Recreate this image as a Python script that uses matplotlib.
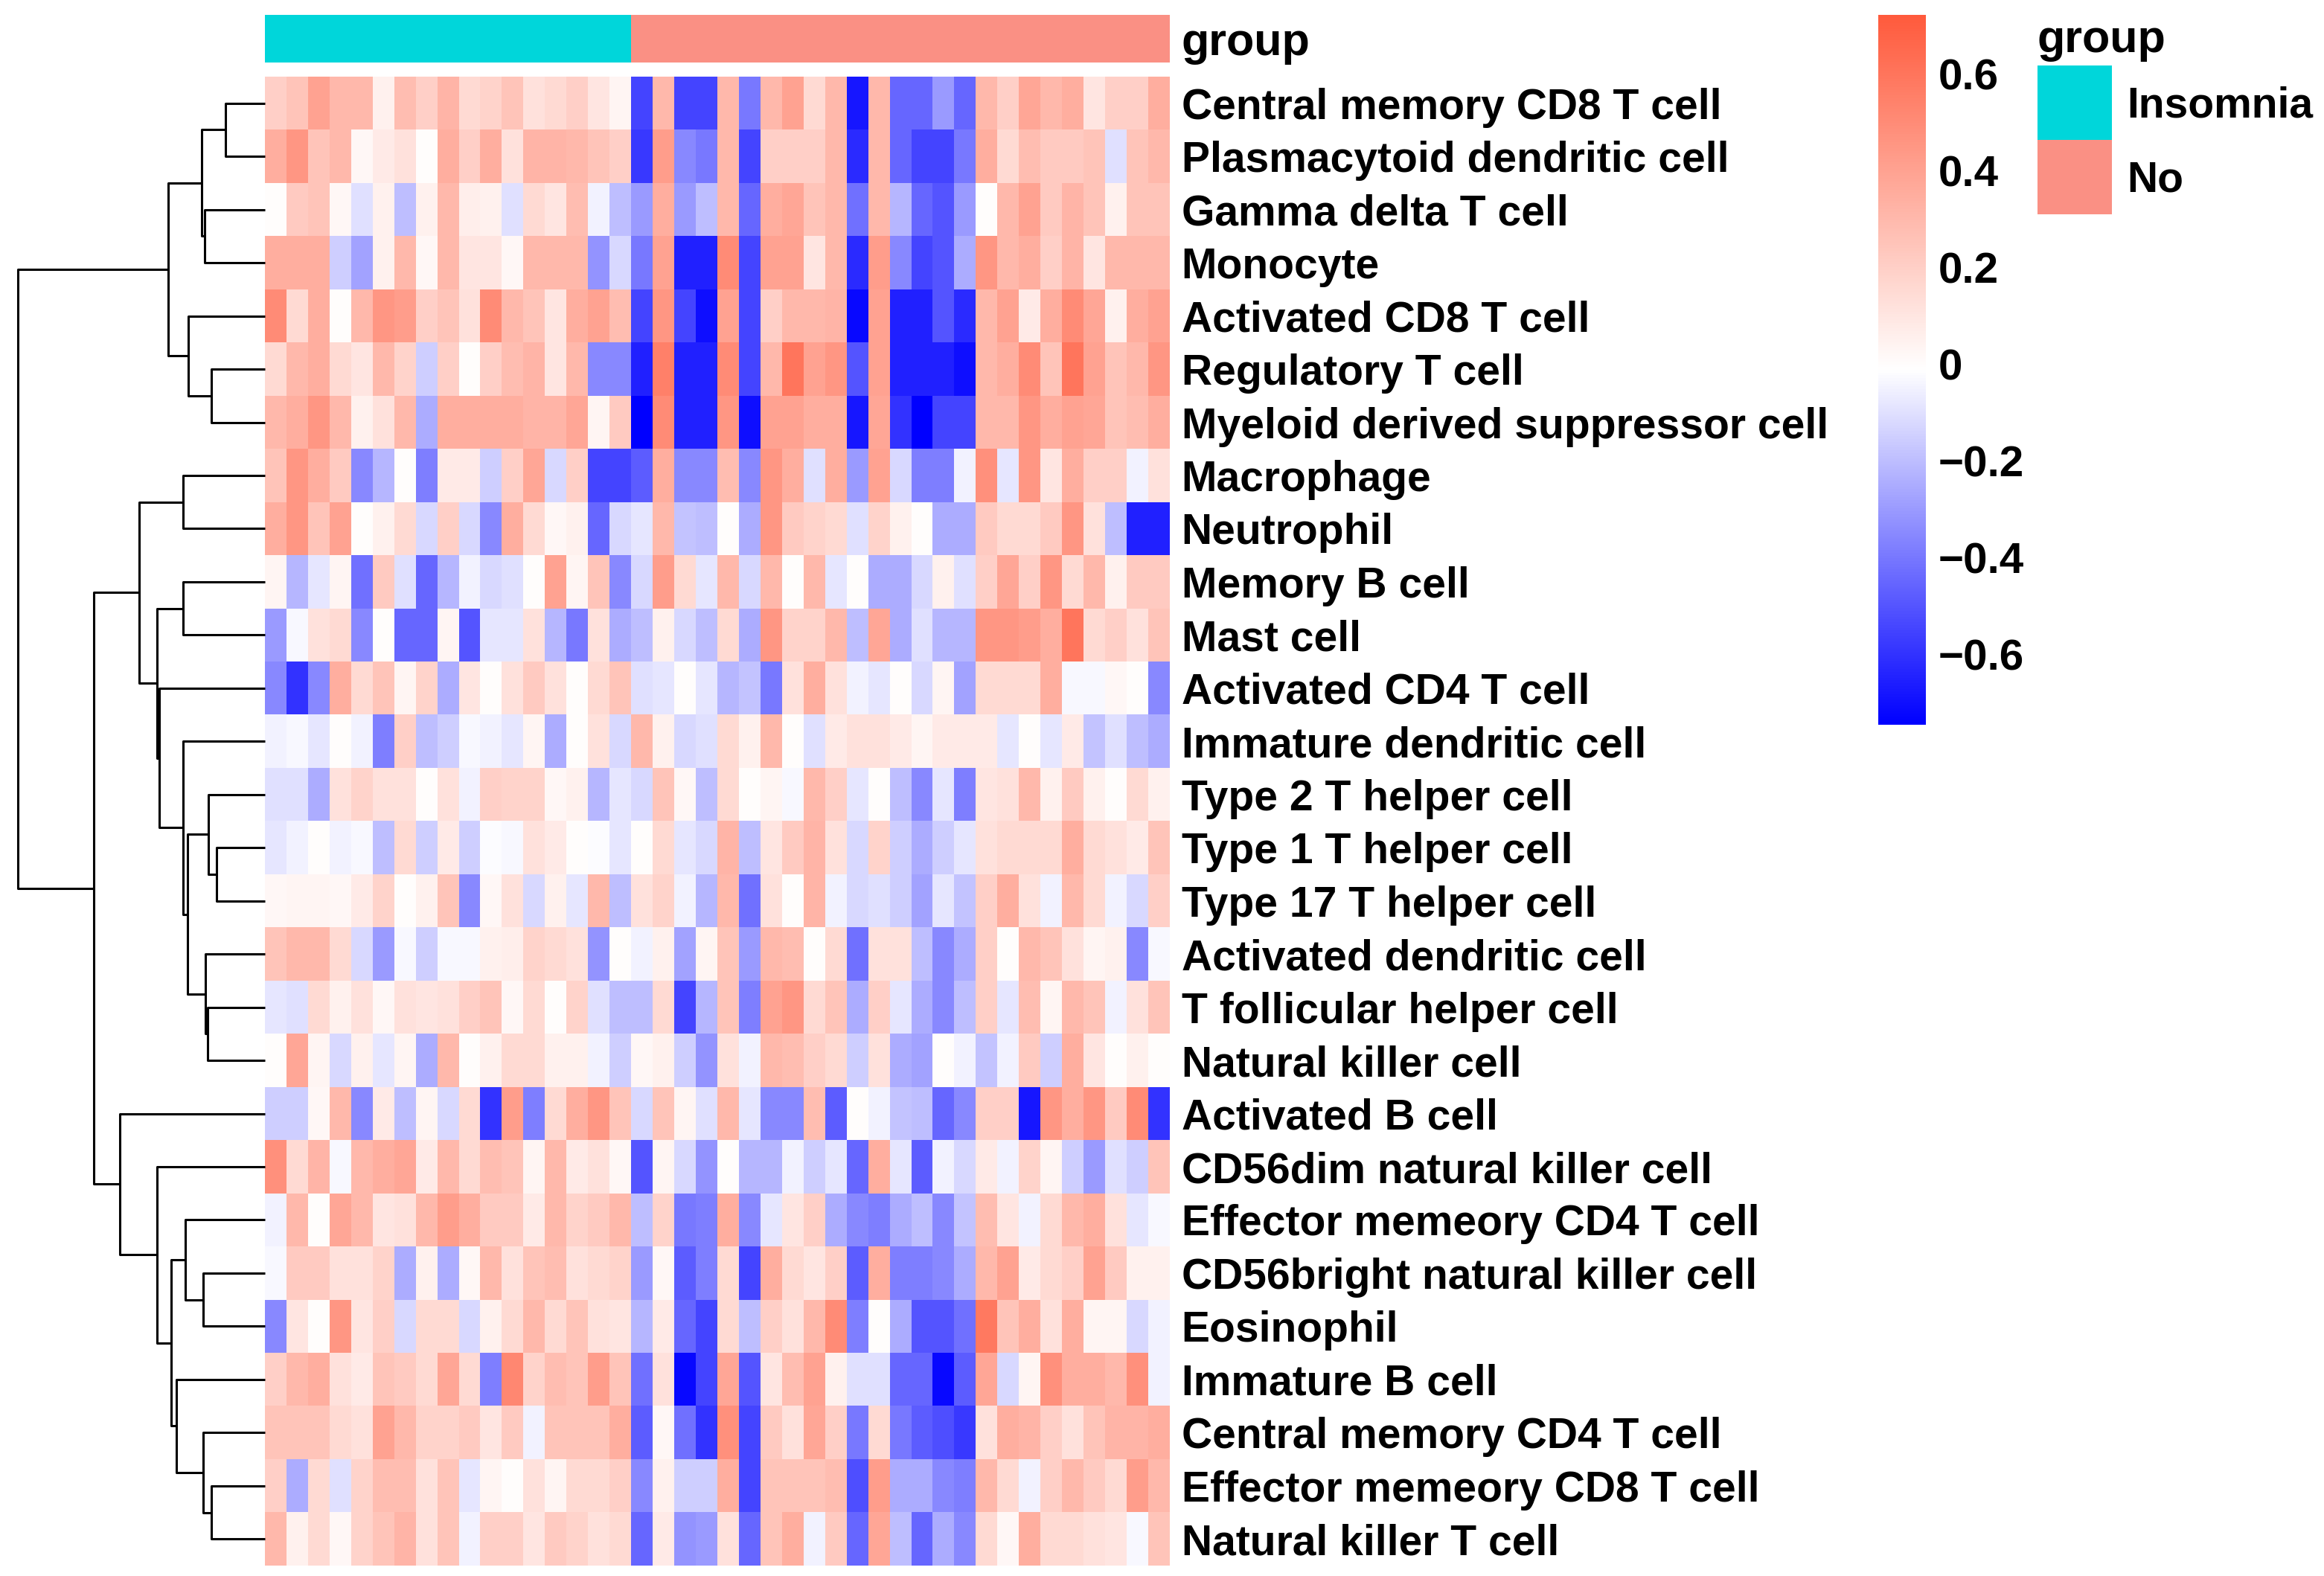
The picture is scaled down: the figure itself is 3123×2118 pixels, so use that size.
"""Immune cell infiltration heatmap, Insomnia vs No, with row dendrogram."""

import matplotlib

matplotlib.use("Agg")
import matplotlib.pyplot as plt
import numpy as np
from matplotlib.colors import LinearSegmentedColormap, ListedColormap, Normalize
from matplotlib.patches import Rectangle

cell_types = [
    "Central memory CD8 T cell", "Plasmacytoid dendritic cell", "Gamma delta T cell",
    "Monocyte", "Activated CD8 T cell", "Regulatory T cell",
    "Myeloid derived suppressor cell", "Macrophage", "Neutrophil", "Memory B cell",
    "Mast cell", "Activated CD4 T cell", "Immature dendritic cell", "Type 2 T helper cell",
    "Type 1 T helper cell", "Type 17 T helper cell", "Activated dendritic cell",
    "T follicular helper cell", "Natural killer cell", "Activated B cell",
    "CD56dim natural killer cell", "Effector memeory CD4 T cell",
    "CD56bright natural killer cell", "Eosinophil", "Immature B cell",
    "Central memory CD4 T cell", "Effector memeory CD8 T cell", "Natural killer T cell",
]

group_names = ["Insomnia", "No"]
group_sizes = [17, 25]
group_colors = ["#00D6DA", "#FA9084"]

# one row per cell type, 17 Insomnia samples then 25 No samples
scores = [
    [0.2, 0.25, 0.4, 0.3, 0.3, 0.05, 0.28, 0.2, 0.32, 0.15, 0.18, 0.25, 0.12, 0.15, 0.2, 0.1, 0.03,
     -0.55, 0.3, -0.55, -0.55, 0.3, -0.4, 0.3, 0.4, 0.15, 0.3, -0.68, 0.3, -0.45, -0.45, -0.3, -0.45,
     0.3, 0.2, 0.38, 0.3, 0.35, 0.1, 0.2, 0.2, 0.35],
    [0.35, 0.45, 0.25, 0.3, 0.02, 0.08, 0.12, 0.0, 0.35, 0.2, 0.35, 0.12, 0.32, 0.32, 0.3, 0.25, 0.2,
     -0.58, 0.42, -0.35, -0.4, 0.3, -0.55, 0.2, 0.2, 0.2, 0.3, -0.62, 0.3, -0.45, -0.55, -0.55, -0.4,
     0.35, 0.15, 0.28, 0.22, 0.22, 0.25, -0.1, 0.25, 0.3],
    [0.0, 0.22, 0.25, 0.02, -0.1, 0.05, -0.2, 0.05, 0.3, 0.06, 0.05, -0.1, 0.15, 0.1, 0.28, -0.05, -0.2,
     -0.3, 0.35, -0.3, -0.2, 0.3, -0.45, 0.35, 0.38, 0.25, 0.3, -0.42, 0.3, -0.22, -0.45, -0.5, -0.3,
     0.0, 0.3, 0.4, 0.22, 0.32, 0.25, 0.05, 0.25, 0.25],
    [0.35, 0.35, 0.35, -0.15, -0.28, 0.05, 0.3, 0.02, 0.3, 0.1, 0.1, 0.02, 0.3, 0.3, 0.3, -0.32, -0.12,
     -0.4, 0.4, -0.65, -0.65, 0.5, -0.55, 0.4, 0.4, 0.1, 0.3, -0.62, 0.42, -0.35, -0.55, -0.5, -0.25,
     0.45, 0.3, 0.35, 0.2, 0.32, 0.1, 0.3, 0.3, 0.3],
    [0.5, 0.15, 0.35, 0.0, 0.3, 0.45, 0.42, 0.2, 0.25, 0.12, 0.5, 0.3, 0.25, 0.1, 0.35, 0.4, 0.28,
     -0.55, 0.45, -0.55, -0.7, 0.4, -0.55, 0.2, 0.3, 0.3, 0.32, -0.72, 0.4, -0.65, -0.65, -0.5, -0.62,
     0.3, 0.4, 0.08, 0.35, 0.5, 0.38, 0.05, 0.35, 0.4],
    [0.15, 0.3, 0.35, 0.15, 0.1, 0.3, 0.18, -0.15, 0.2, 0.0, 0.2, 0.28, 0.32, 0.1, 0.3, -0.35, -0.35,
     -0.65, 0.55, -0.65, -0.65, 0.5, -0.55, 0.3, 0.6, 0.4, 0.45, -0.5, 0.4, -0.65, -0.65, -0.65, -0.7,
     0.3, 0.35, 0.5, 0.25, 0.6, 0.4, 0.25, 0.3, 0.45],
    [0.3, 0.35, 0.45, 0.3, 0.05, 0.12, 0.3, -0.25, 0.35, 0.35, 0.35, 0.35, 0.32, 0.32, 0.38, 0.03, 0.22,
     -0.75, 0.5, -0.65, -0.65, 0.45, -0.7, 0.4, 0.4, 0.35, 0.35, -0.68, 0.38, -0.6, -0.75, -0.55, -0.55,
     0.3, 0.3, 0.45, 0.35, 0.4, 0.38, 0.25, 0.28, 0.35],
    [0.25, 0.45, 0.35, 0.22, -0.35, -0.22, 0.0, -0.38, 0.08, 0.08, -0.15, 0.2, 0.38, -0.12, 0.2, -0.55, -0.55,
     -0.48, 0.35, -0.35, -0.35, 0.28, -0.35, 0.45, 0.35, -0.1, 0.35, -0.3, 0.4, -0.12, -0.38, -0.38, -0.05,
     0.48, -0.08, 0.45, 0.1, 0.35, 0.2, 0.2, -0.05, 0.12],
    [0.35, 0.45, 0.25, 0.4, 0.0, 0.05, 0.15, -0.12, 0.2, -0.12, -0.35, 0.35, 0.15, 0.02, 0.05, -0.45, -0.12,
     -0.08, 0.3, -0.18, -0.2, 0.0, -0.25, 0.45, 0.22, 0.18, 0.15, -0.1, 0.18, 0.05, 0.0, -0.25, -0.25,
     0.22, 0.15, 0.15, 0.22, 0.45, 0.12, -0.2, -0.65, -0.65],
    [0.03, -0.22, -0.08, 0.03, -0.42, 0.22, -0.1, -0.45, -0.22, -0.05, -0.12, -0.1, 0.0, 0.4, 0.03, 0.25, -0.35,
     -0.12, 0.42, 0.15, -0.08, 0.3, -0.12, 0.3, 0.0, 0.3, -0.08, 0.0, -0.25, -0.25, -0.12, 0.05, -0.1,
     0.2, 0.38, 0.2, 0.45, 0.15, 0.3, 0.05, 0.22, 0.22],
    [-0.3, -0.03, 0.12, 0.15, -0.35, 0.0, -0.45, -0.45, 0.03, -0.5, -0.08, -0.08, 0.12, -0.22, -0.4, 0.12, -0.25,
     -0.2, 0.05, -0.12, -0.2, 0.15, -0.25, 0.45, 0.18, 0.18, 0.3, -0.2, 0.38, -0.25, -0.1, -0.22, -0.22,
     0.45, 0.45, 0.42, 0.35, 0.6, 0.15, 0.2, 0.12, 0.25],
    [-0.35, -0.6, -0.35, 0.35, 0.15, 0.25, 0.03, 0.18, -0.25, 0.1, 0.0, 0.12, 0.22, 0.12, 0.0, 0.15, 0.25,
     -0.1, -0.08, 0.0, -0.08, -0.22, -0.18, -0.4, 0.12, 0.35, 0.12, -0.05, -0.08, 0.0, -0.12, 0.03, -0.28,
     0.15, 0.15, 0.15, 0.35, -0.03, -0.03, 0.02, 0.0, -0.35],
    [-0.05, -0.03, -0.08, 0.0, -0.05, -0.38, 0.2, -0.2, -0.15, -0.03, -0.05, -0.08, 0.03, -0.25, 0.0, 0.12, -0.12,
     0.3, 0.05, -0.12, -0.1, 0.15, 0.05, 0.3, 0.0, -0.1, 0.08, 0.12, 0.12, 0.08, 0.03, 0.08, 0.08,
     0.08, -0.08, 0.0, -0.08, 0.08, -0.18, -0.1, -0.2, -0.25],
    [-0.1, -0.1, -0.25, 0.12, 0.18, 0.12, 0.12, 0.0, 0.12, -0.05, 0.2, 0.18, 0.18, 0.02, 0.05, -0.22, -0.08,
     -0.12, 0.25, 0.02, -0.2, 0.15, 0.0, 0.03, -0.03, 0.3, 0.2, -0.08, 0.0, -0.2, -0.35, -0.08, -0.38,
     0.1, 0.12, 0.3, 0.05, 0.22, 0.05, 0.0, 0.15, 0.05],
    [-0.08, -0.05, 0.0, -0.05, -0.03, -0.2, 0.15, -0.15, 0.08, -0.15, -0.02, -0.03, 0.12, 0.08, 0.0, -0.02, -0.08,
     0.0, 0.15, -0.08, -0.12, 0.32, -0.2, 0.1, 0.22, 0.32, 0.12, -0.12, 0.18, -0.15, -0.25, -0.15, -0.08,
     0.12, 0.15, 0.15, 0.15, 0.35, 0.15, 0.12, 0.08, 0.25],
    [0.02, 0.03, 0.03, 0.02, 0.08, 0.18, 0.0, 0.05, 0.25, -0.35, 0.02, 0.12, -0.12, 0.05, -0.08, 0.3, -0.2,
     0.12, 0.18, -0.05, -0.22, 0.3, -0.42, 0.12, 0.0, 0.32, -0.05, -0.12, -0.1, -0.15, -0.28, -0.08, -0.18,
     0.2, 0.35, 0.12, -0.05, 0.3, 0.15, -0.05, -0.12, 0.2],
    [0.25, 0.3, 0.3, 0.15, -0.12, -0.3, -0.03, -0.15, -0.03, -0.03, 0.05, 0.06, 0.18, 0.15, 0.12, -0.32, 0.0,
     -0.05, 0.05, -0.28, 0.03, 0.25, -0.3, 0.3, 0.28, 0.0, 0.15, -0.42, 0.12, 0.12, -0.2, -0.35, -0.25,
     0.2, 0.0, 0.3, 0.25, 0.12, 0.03, 0.05, -0.35, -0.03],
    [-0.08, -0.1, 0.15, 0.05, 0.12, 0.02, 0.12, 0.1, 0.12, 0.2, 0.25, 0.02, 0.15, 0.0, 0.18, -0.1, -0.2,
     -0.2, 0.15, -0.55, -0.22, 0.25, -0.38, 0.4, 0.45, 0.15, 0.25, -0.25, 0.2, -0.08, -0.25, -0.35, -0.2,
     0.2, -0.08, 0.28, 0.03, 0.3, 0.25, -0.05, 0.12, 0.25],
    [0.0, 0.38, 0.03, -0.12, 0.05, -0.08, 0.03, -0.25, 0.3, 0.0, 0.05, 0.15, 0.15, 0.05, 0.05, -0.05, -0.15,
     0.02, 0.05, -0.15, -0.32, 0.12, -0.05, 0.3, 0.28, 0.2, 0.15, -0.15, 0.12, -0.25, -0.28, 0.0, -0.05,
     -0.18, -0.05, 0.22, -0.15, 0.35, 0.1, 0.0, 0.05, 0.0],
    [-0.15, -0.15, 0.02, 0.3, -0.35, 0.08, -0.2, 0.03, -0.12, 0.15, -0.6, 0.42, -0.38, 0.15, 0.35, 0.45, 0.25,
     -0.12, 0.25, 0.03, -0.1, 0.3, -0.08, -0.35, -0.35, 0.28, -0.48, 0.0, -0.05, -0.18, -0.2, -0.45, -0.35,
     0.2, 0.2, -0.68, 0.45, 0.35, 0.45, 0.22, 0.5, -0.6],
    [0.48, 0.15, 0.32, -0.03, 0.3, 0.35, 0.38, 0.08, 0.3, 0.15, 0.28, 0.25, 0.03, 0.3, 0.08, 0.12, 0.02,
     -0.5, 0.03, -0.12, -0.32, 0.0, -0.22, -0.22, -0.05, -0.15, -0.08, -0.45, 0.35, -0.08, -0.48, -0.05, -0.12,
     0.08, -0.05, 0.18, 0.03, -0.15, -0.3, -0.1, -0.15, 0.25],
    [-0.05, 0.3, 0.0, 0.38, 0.3, 0.1, 0.12, 0.3, 0.42, 0.35, 0.22, 0.22, 0.08, 0.3, 0.18, 0.22, 0.3,
     -0.2, 0.18, -0.4, -0.38, 0.35, -0.35, -0.08, 0.1, 0.2, -0.25, -0.35, -0.38, -0.25, -0.2, -0.35, -0.18,
     0.28, 0.1, -0.05, 0.15, 0.3, 0.35, 0.12, -0.08, -0.03],
    [-0.03, 0.22, 0.22, 0.12, 0.12, 0.18, -0.25, 0.05, -0.25, 0.02, 0.3, 0.12, 0.25, 0.28, 0.12, 0.15, 0.18,
     -0.3, 0.02, -0.48, -0.38, 0.15, -0.55, 0.35, 0.15, 0.1, 0.2, -0.48, 0.35, -0.38, -0.38, -0.35, -0.25,
     0.3, 0.4, 0.08, 0.15, 0.2, 0.4, 0.22, 0.05, 0.05],
    [-0.35, 0.1, 0.0, 0.45, 0.1, 0.2, -0.12, 0.15, 0.15, -0.12, 0.05, 0.15, 0.3, 0.15, 0.25, 0.12, 0.1,
     -0.22, 0.08, -0.45, -0.55, 0.15, -0.2, 0.2, 0.12, 0.3, 0.5, -0.38, 0.0, -0.25, -0.5, -0.5, -0.42,
     0.58, 0.25, 0.35, 0.12, 0.35, 0.03, 0.03, -0.12, -0.05],
    [0.2, 0.3, 0.35, 0.12, 0.08, 0.25, 0.22, 0.15, 0.38, 0.15, -0.38, 0.52, 0.18, 0.28, 0.25, 0.42, 0.25,
     -0.42, 0.12, -0.72, -0.55, 0.38, -0.5, 0.1, 0.28, 0.4, 0.05, -0.1, -0.1, -0.45, -0.45, -0.72, -0.48,
     0.38, -0.12, 0.03, 0.48, 0.35, 0.35, 0.3, 0.48, -0.05],
    [0.25, 0.25, 0.25, 0.15, 0.12, 0.4, 0.3, 0.18, 0.18, 0.22, 0.1, 0.22, -0.05, 0.25, 0.25, 0.25, 0.35,
     -0.48, 0.02, -0.42, -0.6, 0.48, -0.55, 0.22, 0.12, 0.38, 0.2, -0.4, 0.15, -0.4, -0.48, -0.52, -0.58,
     0.12, 0.35, 0.32, 0.2, 0.12, 0.25, 0.32, 0.32, 0.35],
    [0.2, -0.25, 0.15, -0.1, 0.18, 0.28, 0.28, 0.12, 0.25, -0.08, 0.03, 0.0, 0.12, 0.03, 0.15, 0.15, 0.2,
     -0.35, 0.05, -0.15, -0.15, 0.35, -0.55, 0.25, 0.25, 0.25, 0.28, -0.52, 0.42, -0.25, -0.25, -0.35, -0.38,
     0.3, 0.15, -0.05, 0.2, 0.3, 0.22, 0.15, 0.42, 0.3],
    [0.3, 0.05, 0.15, 0.02, 0.18, 0.25, 0.32, 0.12, 0.25, -0.05, 0.2, 0.2, 0.1, 0.22, 0.18, 0.12, 0.15,
     -0.45, 0.08, -0.32, -0.3, 0.12, -0.45, 0.25, 0.35, -0.05, 0.22, -0.45, 0.38, -0.2, -0.45, -0.25, -0.35,
     0.15, 0.02, 0.35, 0.15, 0.15, 0.12, 0.1, -0.03, 0.25],
]

# row dendrogram merges (left node, right node, height); leaves are 0..27, merges are 28..
row_linkage = [
    (0, 1, 0.16), (2, 3, 0.245), (28, 29, 0.255), (5, 6, 0.218), (4, 31, 0.31),
    (30, 32, 0.392), (7, 8, 0.332), (9, 10, 0.332), (14, 15, 0.195), (13, 36, 0.23),
    (17, 18, 0.232), (16, 38, 0.242), (37, 39, 0.313), (12, 40, 0.332), (11, 41, 0.428),
    (35, 42, 0.438), (34, 43, 0.51), (22, 23, 0.25), (21, 45, 0.322), (26, 27, 0.218),
    (25, 47, 0.25), (24, 48, 0.358), (46, 49, 0.38), (20, 50, 0.438), (19, 51, 0.588),
    (44, 52, 0.692), (33, 53, 1.0),
]

cbar_ticks = [-0.6, -0.4, -0.2, 0, 0.2, 0.4, 0.6]
cbar_labels = ["\u22120.6", "\u22120.4", "\u22120.2", "0", "0.2", "0.4", "0.6"]

W, H, DPI = 3123, 2118, 200
FONT = "Liberation Sans"
FS = 20.5


def px_axes(fig, x0, y0, x1, y1):
    return fig.add_axes([x0 / W, 1 - y1 / H, (x1 - x0) / W, (y1 - y0) / H])


def main() -> None:
    plt.rcParams["font.family"] = [FONT, "DejaVu Sans"]
    plt.rcParams["font.weight"] = "bold"
    data = np.array(scores)
    n_rows, n_cols = data.shape
    assert n_rows == len(cell_types) and n_cols == sum(group_sizes)

    fig = plt.figure(figsize=(W / DPI, H / DPI), dpi=DPI)
    cmap = LinearSegmentedColormap.from_list("bwr_pheat", ["#0000FF", "#FFFFFF", "#FF5A3C"], N=256)
    norm = Normalize(vmin=-0.745, vmax=0.723)

    # heatmap
    ax = px_axes(fig, 356, 103, 1571, 2104)
    im = ax.imshow(data, cmap=cmap, norm=norm, aspect="auto", interpolation="nearest")
    ax.set_xticks([])
    ax.set_yticks(range(n_rows))
    ax.set_yticklabels(cell_types, fontsize=FS)
    ax.yaxis.tick_right()
    ax.tick_params(axis="y", length=0, pad=6)
    for spine in ax.spines.values():
        spine.set_visible(False)

    # group annotation bar
    codes = np.repeat(np.arange(len(group_names)), group_sizes)[None, :]
    ax_ann = px_axes(fig, 356, 20, 1571, 84)
    ax_ann.imshow(codes, cmap=ListedColormap(group_colors), aspect="auto", interpolation="nearest")
    ax_ann.set_xticks([])
    ax_ann.set_yticks([0])
    ax_ann.set_yticklabels(["group"], fontsize=FS + 1.5)
    ax_ann.yaxis.tick_right()
    ax_ann.tick_params(axis="y", length=0, pad=6)
    for spine in ax_ann.spines.values():
        spine.set_visible(False)

    # row dendrogram
    ax_d = px_axes(fig, 24, 103, 356, 2104)
    pos = {i: i for i in range(n_rows)}
    height = {i: 0.0 for i in range(n_rows)}
    for k, (a, b, h) in enumerate(row_linkage):
        node = n_rows + k
        ax_d.plot([height[a], h, h, height[b]], [pos[a], pos[a], pos[b], pos[b]],
                  color="black", lw=1.1, solid_capstyle="butt", clip_on=False)
        pos[node] = (pos[a] + pos[b]) / 2
        height[node] = h
    ax_d.set_xlim(max(height.values()), 0)
    ax_d.set_ylim(n_rows - 0.5, -0.5)
    ax_d.axis("off")

    # colour key
    cax = px_axes(fig, 2524, 20, 2588, 974)
    cb = fig.colorbar(im, cax=cax)
    cb.outline.set_visible(False)
    cb.set_ticks(cbar_ticks)
    cb.set_ticklabels(cbar_labels)
    cax.tick_params(length=0, pad=6, labelsize=FS + 0.5)

    # group legend
    ax_l = px_axes(fig, 2738, 0, W, 320)
    ax_l.set_xlim(0, W - 2738)
    ax_l.set_ylim(320, 0)
    ax_l.axis("off")
    ax_l.text(0, 70, "group", fontsize=FS + 1.5, fontweight="bold", va="baseline")
    for i, (name, color) in enumerate(zip(group_names, group_colors)):
        y0 = 88 + i * 100
        ax_l.add_patch(Rectangle((0, y0), 100, 100, facecolor=color, edgecolor="none"))
        ax_l.text(120, y0 + 54, name, fontsize=FS, va="center")

    fig.savefig("out.png", dpi=DPI, facecolor="white")
    plt.close(fig)


if __name__ == "__main__":
    main()
